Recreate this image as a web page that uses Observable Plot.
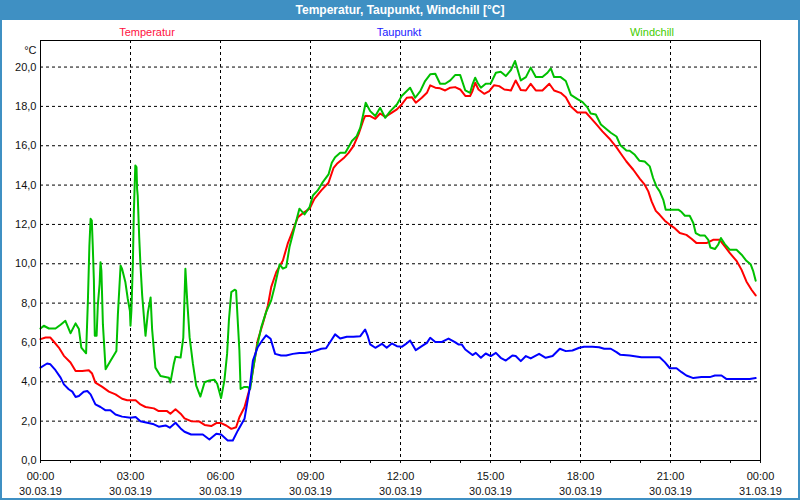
<!DOCTYPE html>
<html>
<head>
<meta charset="utf-8">
<script src="https://cdn.jsdelivr.net/npm/d3@7"></script>
<script src="https://cdn.jsdelivr.net/npm/@observablehq/plot@0.6"></script>
<style>
  html, body { margin: 0; padding: 0; background: #fff; }
  #wrap { position: relative; width: 800px; height: 500px; overflow: hidden; background: #fff; font-family: "Liberation Sans", Arial, sans-serif; }
  #title { position: absolute; left: 0; top: 0; width: 800px; height: 20px; background: #3f90c3; color: #fff; font-weight: bold; font-size: 12px; line-height: 20px; text-align: center; }
  #border { position: absolute; left: 0; top: 0; width: 800px; height: 500px; box-sizing: border-box; border: 2px solid #3f90c3; pointer-events: none; }
  #chart { position: absolute; left: 0; top: 20px; }
  .leg { position: absolute; top: 25px; font-size: 11px; line-height: 14px; transform: translateX(-50%); white-space: nowrap; }
</style>
</head>
<body>
<div id="wrap">
  <div id="title">Temperatur, Taupunkt, Windchill [°C]</div>
  <div id="chart"></div>
  <div id="legend"></div>
  <div id="border"></div>
</div>
<script>
// Series names and colours
const seriesNames = ["Temperatur", "Taupunkt", "Windchill"];
const seriesColors = ["#ff0000", "#0000ff", "#00c000"];
const legendColors = ["#ff1040", "#2020ff", "#44cc00"];

// Temperatur: hours since 30.03.19 00:00, °C
const hoursT = [0.00,0.17,0.33,0.44,0.61,0.78,1.00,1.17,1.39,1.61,1.72,1.83,2.06,2.28,2.50,2.72,2.89,3.17,3.33,3.50,3.78,3.94,4.22,4.33,4.50,4.67,4.80,
  5.02,5.30,5.47,5.69,5.86,6.02,6.19,6.36,6.52,6.63,6.80,6.97,7.08,7.24,7.41,7.58,7.69,7.86,8.08,8.24,8.41,8.58,8.80,8.97,9.13,9.36,
  9.60,9.77,9.88,10.10,10.27,10.43,10.60,10.77,10.82,10.99,11.16,11.32,11.49,11.66,11.88,12.04,12.21,12.38,12.51,12.71,12.88,12.99,13.16,13.32,13.49,13.66,13.82,13.99,14.16,14.32,
  14.40,14.49,14.60,14.79,14.96,15.12,15.29,15.46,15.68,15.84,16.01,16.18,16.34,16.51,16.73,16.96,17.12,17.34,17.51,17.68,17.90,18.18,18.34,18.51,18.73,18.96,
  19.20,19.33,19.53,19.76,19.98,20.14,20.26,20.37,20.51,20.64,20.81,20.98,21.14,21.31,21.53,21.70,21.87,22.20,22.42,22.64,22.81,22.98,23.20,23.37,23.53,23.70,23.84];
const valuesT = [6.17,6.25,6.25,6.05,5.74,5.32,4.98,4.55,4.55,4.59,4.42,3.96,3.74,3.50,3.36,3.14,3.06,3.06,2.85,2.72,2.65,2.51,2.51,2.38,2.60,2.38,2.14,
  2.00,1.98,1.81,1.75,1.90,1.90,1.78,1.61,1.69,2.20,2.71,3.64,4.58,6.10,6.95,7.88,8.81,9.58,10.17,11.02,11.69,12.37,12.63,12.80,13.30,13.73,
  14.12,14.88,15.08,15.36,15.64,15.98,16.58,17.34,17.51,17.51,17.37,17.64,17.47,17.63,17.85,18.10,18.44,18.47,18.19,18.44,18.69,19.07,18.95,18.92,18.81,18.95,18.98,18.86,18.53,18.53,
  18.78,19.20,18.86,18.64,18.78,19.08,19.03,18.86,18.81,19.32,18.83,18.81,19.15,18.81,18.81,19.15,18.81,18.69,18.47,18.00,17.69,17.69,17.42,17.12,16.73,16.37,
  15.92,15.63,15.20,14.78,14.32,14.02,13.68,13.17,12.69,12.49,12.19,11.98,11.81,11.56,11.47,11.27,11.05,11.05,11.22,11.22,10.88,10.54,10.15,9.69,9.10,8.68,8.39];

// Taupunkt
const hoursD = [0.00,0.22,0.33,0.50,0.67,0.78,0.94,1.06,1.17,1.28,1.44,1.56,1.67,1.83,2.00,2.17,2.33,2.50,2.72,3.00,3.17,3.33,3.56,3.78,3.94,4.17,4.31,4.50,4.67,4.80,
  5.02,5.41,5.63,5.86,6.02,6.24,6.41,6.58,6.80,6.97,7.08,7.24,7.39,7.52,7.67,7.82,8.02,8.19,8.41,8.63,8.80,9.02,9.19,9.36,9.52,
  9.60,9.71,9.82,9.99,10.21,10.43,10.66,10.82,10.91,10.99,11.16,11.38,11.54,11.71,11.88,12.04,12.16,12.32,12.51,12.71,12.88,12.99,13.16,13.38,13.60,13.80,13.93,14.04,14.16,
  14.40,14.51,14.68,14.84,15.01,15.18,15.34,15.51,15.73,15.84,16.01,16.18,16.34,16.62,16.84,17.07,17.31,17.51,17.73,17.96,18.12,18.40,18.62,18.79,19.01,
  19.20,19.33,19.64,20.03,20.64,20.81,20.98,21.20,21.37,21.53,21.76,22.03,22.31,22.48,22.70,22.87,23.20,23.64,23.84];
const valuesD = [4.72,4.93,4.89,4.59,4.21,3.87,3.62,3.50,3.23,3.28,3.50,3.53,3.36,2.85,2.72,2.55,2.55,2.34,2.23,2.17,2.21,2.00,1.92,1.84,1.72,1.78,1.67,1.92,1.63,1.46,
  1.32,1.32,1.07,1.36,1.32,1.02,1.02,1.53,2.12,3.64,5.08,5.76,6.10,6.36,6.19,5.42,5.34,5.34,5.42,5.47,5.46,5.51,5.59,5.68,5.71,
  5.90,6.15,6.41,6.20,6.29,6.29,6.32,6.66,6.32,5.90,5.73,5.93,5.73,5.95,5.81,5.78,5.90,6.10,5.61,5.81,5.98,6.24,6.02,6.03,6.20,6.03,5.90,5.90,5.64,
  5.36,5.47,5.22,5.44,5.31,5.47,5.22,5.08,5.34,5.31,5.05,5.31,5.19,5.42,5.22,5.31,5.68,5.56,5.59,5.73,5.78,5.78,5.76,5.68,5.68,
  5.51,5.37,5.34,5.25,5.25,5.00,4.69,4.69,4.49,4.32,4.19,4.24,4.24,4.32,4.32,4.14,4.14,4.14,4.19];

// Windchill
const hoursW = [0.00,0.11,0.28,0.50,0.67,0.83,1.00,1.17,1.28,1.36,1.52,1.58,1.63,1.67,1.71,1.74,1.78,1.81,1.87,1.91,1.97,2.00,2.03,2.08,2.17,2.33,2.53,2.58,2.67,2.72,2.83,2.91,2.98,3.00,3.03,3.08,3.11,3.16,3.20,3.22,3.24,3.29,3.33,3.39,3.44,3.50,3.58,3.67,3.72,3.83,4.00,4.28,4.33,4.44,4.50,4.67,4.76,
  4.83,4.89,4.97,5.08,5.19,5.33,5.47,5.63,5.80,5.89,6.02,6.13,6.22,6.28,6.36,6.47,6.52,6.58,6.63,6.67,6.78,6.91,6.99,7.08,7.19,7.36,7.52,7.69,7.80,7.97,8.08,8.19,8.30,8.47,8.63,8.80,8.97,9.08,9.24,9.41,
  9.60,9.71,9.82,9.99,10.16,10.27,10.38,10.54,10.66,10.77,10.84,10.99,11.16,11.32,11.49,11.66,11.88,12.04,12.32,12.49,12.66,12.82,12.99,13.16,13.32,13.49,13.66,13.82,13.99,14.16,14.32,
  14.40,14.49,14.57,14.68,14.84,15.01,15.18,15.34,15.51,15.68,15.82,16.01,16.18,16.34,16.51,16.73,16.90,17.01,17.12,17.34,17.51,17.68,17.90,18.07,18.23,18.34,18.51,18.68,18.84,19.01,
  19.20,19.33,19.53,19.64,19.81,19.96,20.14,20.31,20.42,20.53,20.64,20.76,20.84,21.03,21.26,21.37,21.48,21.64,21.76,21.84,21.98,22.14,22.26,22.33,22.48,22.59,22.68,22.81,22.98,23.20,23.37,23.53,23.67,23.76,23.84];
const valuesW = [6.71,6.85,6.71,6.71,6.90,7.10,6.47,6.97,6.68,5.74,5.45,8.12,10.93,12.29,12.20,11.00,9.14,6.34,6.34,7.87,8.97,10.08,9.65,6.93,4.64,5.06,5.57,7.44,9.91,9.74,9.06,8.21,7.61,6.85,7.61,10.08,12.54,15.00,14.92,13.81,13.47,11.35,9.99,8.38,7.44,6.34,7.53,8.29,6.68,4.72,4.30,4.21,3.96,4.89,5.27,5.23,6.25,
  9.75,8.14,6.27,4.92,3.81,3.25,3.98,4.07,4.10,3.90,3.17,4.07,5.42,7.12,8.56,8.68,8.64,6.95,5.59,3.64,3.73,3.73,3.64,4.58,5.59,6.78,7.54,8.14,8.81,9.97,9.75,9.83,10.85,11.86,12.80,12.51,12.88,13.47,13.73,14.15,
  14.54,15.14,15.42,15.64,15.64,15.93,16.24,16.49,16.92,17.68,18.19,17.76,17.51,17.93,17.42,17.76,18.10,18.53,18.95,18.44,18.78,19.29,19.63,19.66,19.15,19.15,19.32,19.59,19.59,18.81,18.69,
  19.12,19.46,19.20,18.95,19.15,19.17,19.71,19.76,19.54,19.85,20.31,19.32,19.49,19.97,19.49,19.49,19.71,19.93,19.49,19.49,19.29,18.59,18.37,18.22,17.95,17.64,17.59,17.08,16.88,16.66,
  16.47,16.02,15.76,15.75,15.54,15.24,15.20,14.95,14.36,13.93,13.68,13.25,12.75,12.75,12.75,12.63,12.44,12.44,12.07,11.56,11.44,11.44,11.22,10.83,10.75,10.97,11.31,11.00,10.71,10.71,10.46,10.15,9.98,9.61,9.14];

// Axis ticks
const yTicks = [0, 2, 4, 6, 8, 10, 12, 14, 16, 18, 20];
const xTickHours = [0, 3, 6, 9, 12, 15, 18, 21, 24];
const xTickLabels = ["00:00\n30.03.19", "03:00\n30.03.19", "06:00\n30.03.19", "09:00\n30.03.19", "12:00\n30.03.19",
  "15:00\n30.03.19", "18:00\n30.03.19", "21:00\n30.03.19", "00:00\n31.03.19"];
const minorHours = d3.range(0, 25);

const day0 = Date.UTC(2019, 2, 30);
const toDate = h => new Date(day0 + h * 3600e3);
const mk = (hours, vals, s) => hours.map((h, i) => ({date: toDate(h), value: vals[i], series: s}));
const dataT = mk(hoursT, valuesT, seriesNames[0]);
const dataD = mk(hoursD, valuesD, seriesNames[1]);
const dataW = mk(hoursW, valuesW, seriesNames[2]);
const xTickDates = xTickHours.map(toDate);
const labelOf = d => xTickLabels[xTickHours.indexOf(Math.round((+d - day0) / 3600e3))];

const chart = Plot.plot({
  width: 800, height: 480,
  marginTop: 20, marginBottom: 40, marginLeft: 40, marginRight: 40,
  x: {type: "utc", domain: [toDate(0), toDate(24)]},
  y: {domain: [0, 21.35]},
  style: {fontFamily: "Liberation Sans, Arial, sans-serif", fontSize: "11px", color: "#111", background: "white", overflow: "visible"},
  marks: [
    Plot.gridY(yTicks, {stroke: "black", strokeOpacity: 1, strokeDasharray: "3,3"}),
    Plot.gridX(xTickDates, {stroke: "black", strokeOpacity: 1, strokeDasharray: "3,3"}),
    Plot.axisX(minorHours.map(toDate), {tickSize: 3, tickFormat: () => "", label: null}),
    Plot.axisX(xTickDates, {tickSize: 0, tickPadding: 9, tickFormat: labelOf, lineHeight: 1.36, label: null, fill: "#111"}),
    Plot.axisY(yTicks, {tickSize: 0, tickPadding: 4, tickFormat: d => d.toFixed(1).replace(".", ","), label: null, fill: "#111"}),
    Plot.text(["°C"], {frameAnchor: "top-left", dx: -4, dy: 6, textAnchor: "end", fill: "#111"}),
    Plot.lineY(dataT, {x: "date", y: "value", stroke: seriesColors[0], strokeWidth: 2}),
    Plot.lineY(dataW, {x: "date", y: "value", stroke: seriesColors[2], strokeWidth: 2}),
    Plot.lineY(dataD, {x: "date", y: "value", stroke: seriesColors[1], strokeWidth: 2}),
    Plot.frame({stroke: "black", strokeWidth: 1})
  ]
});
document.getElementById("chart").appendChild(chart);

// Legend labels above the plot
const legendX = [147, 399, 652];
const legend = document.getElementById("legend");
seriesNames.forEach((name, i) => {
  const s = document.createElement("span");
  s.className = "leg";
  s.textContent = name;
  s.style.left = legendX[i] + "px";
  s.style.color = legendColors[i];
  legend.appendChild(s);
});
</script>
</body>
</html>
